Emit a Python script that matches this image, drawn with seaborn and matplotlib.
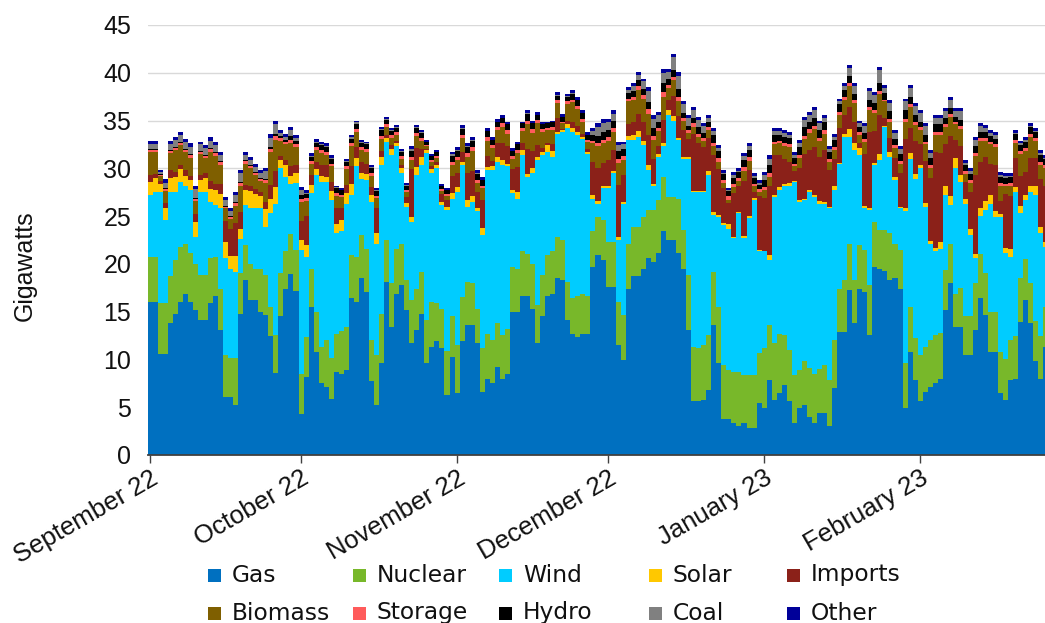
"""Daily GB electricity supply mix, September 2022 to February 2023."""

import matplotlib

matplotlib.use("Agg")
import matplotlib.dates as mdates
import matplotlib.pyplot as plt
import pandas as pd
import seaborn as sns
from matplotlib.patches import Rectangle

START_DATE = "2022-09-01"

# daily GW, Sep | Oct | Nov | Dec | Jan | Feb (to 26th, where the picture is cut)
gas = [
    16.0, 16.0, 10.6, 10.6, 13.8, 14.8, 16.0, 16.9, 16.0, 15.2, 14.1, 14.1, 15.9, 16.6, 13.1,
    6.1, 6.1, 5.2, 14.8, 18.3, 16.2, 16.2, 15.0, 14.7, 12.5, 8.6, 14.5, 17.4, 18.9, 17.2,
    4.3, 8.2, 15.5, 10.8, 7.5, 7.1, 5.9, 8.7, 8.5, 8.9, 16.4, 16.0, 18.5, 17.1, 7.7, 5.2,
    9.6, 18.1, 13.4, 16.9, 17.8, 15.2, 11.7, 13.1, 14.8, 9.6, 11.3, 11.9, 11.2, 6.3, 10.3,
    6.5, 11.9, 13.6, 13.6, 11.7, 6.6, 8.0, 7.5, 9.2, 8.0, 8.5, 15.0, 15.0, 16.6, 16.6,
    15.3, 11.7, 14.5, 16.6, 16.9, 18.5, 18.3, 14.1, 12.7, 12.4, 12.7, 12.7, 19.7, 20.9, 20.4,
    17.6, 17.6, 11.5, 9.9, 17.4, 18.7, 18.7, 19.5, 20.6, 20.2, 21.1, 23.4, 22.5, 22.5, 21.1,
    19.5, 13.1, 5.6, 5.6, 5.8, 6.8, 13.6, 9.6, 3.8, 3.8, 3.3, 3.0, 3.3, 2.8, 2.8, 5.4,
    4.9, 7.8, 5.8, 6.5, 7.3, 5.6, 3.3, 4.9, 5.2, 4.0, 3.3, 4.4, 4.4, 3.0, 7.0, 12.9,
    12.9, 17.3, 13.8, 17.4, 17.1, 12.6, 19.7, 19.5, 19.3, 18.3, 18.5, 17.4, 4.9, 10.8, 7.8,
    5.6, 6.6, 7.1, 7.5, 8.0, 15.2, 18.0, 13.4, 13.4, 10.5, 10.5, 13.1, 16.4, 14.6, 10.8,
    10.8, 6.5, 5.8, 7.8, 8.0, 13.9, 16.2, 13.8, 9.8, 8.0, 11.3,
]
nuclear = [
    4.7, 4.7, 5.3, 5.3, 4.9, 5.6, 5.8, 5.2, 5.1, 4.8, 4.7, 4.7, 4.7, 4.1, 4.3,
    4.4, 4.0, 4.9, 4.2, 3.7, 3.8, 3.3, 4.5, 4.1, 3.0, 4.0, 4.5, 3.9, 4.2, 4.3,
    4.2, 4.2, 4.0, 4.2, 3.8, 4.9, 4.2, 4.0, 4.5, 4.5, 4.5, 4.7, 4.5, 4.5, 4.3, 5.3,
    5.2, 4.4, 4.6, 4.7, 4.3, 3.1, 4.5, 4.3, 4.4, 4.5, 4.7, 4.0, 4.1, 4.6, 4.2,
    5.0, 4.6, 4.5, 4.4, 3.6, 4.6, 4.7, 4.5, 4.6, 4.6, 4.7, 4.7, 4.5, 4.7, 4.4,
    4.7, 4.0, 4.3, 4.3, 4.4, 4.3, 4.2, 4.0, 3.7, 4.2, 4.1, 3.9, 3.7, 4.0, 4.2,
    4.7, 4.7, 4.5, 4.7, 4.7, 5.2, 5.2, 5.4, 5.0, 5.4, 5.6, 5.7, 4.5, 4.5, 5.7,
    4.0, 5.7, 5.7, 5.6, 5.7, 5.8, 5.6, 5.9, 5.6, 5.1, 5.4, 5.7, 5.1, 5.6, 5.6, 5.3,
    6.3, 5.8, 5.9, 6.2, 5.3, 5.4, 5.1, 4.0, 4.6, 5.1, 5.2, 4.6, 5.0, 4.8, 5.0, 4.5,
    5.4, 4.8, 4.5, 4.6, 4.4, 5.2, 4.7, 4.0, 4.2, 4.9, 3.6, 4.1, 4.7, 4.7, 4.4,
    4.9, 4.7, 4.9, 5.1, 4.8, 4.2, 4.1, 3.5, 4.1, 4.0, 4.0, 4.9, 4.6, 4.4, 4.2,
    4.2, 4.3, 4.2, 4.2, 4.5, 4.6, 4.3, 4.2, 4.2, 4.5, 4.2,
]
wind = [
    6.5, 6.8, 11.6, 8.7, 8.8, 7.1, 6.8, 6.1, 6.6, 2.8, 8.7, 8.7, 5.9, 5.5, 8.5,
    10.1, 9.4, 9.1, 3.6, 4.2, 5.9, 6.4, 6.4, 5.1, 9.8, 13.7, 11.0, 7.8, 5.3, 7.0,
    13.0, 8.3, 7.9, 14.3, 17.3, 16.6, 16.6, 10.5, 10.4, 12.9, 6.3, 9.5, 5.9, 7.2, 14.5, 11.6,
    15.5, 10.3, 13.4, 10.7, 7.4, 7.7, 8.2, 11.9, 11.1, 17.5, 13.5, 14.1, 10.9, 14.7, 12.3,
    16.0, 13.8, 7.9, 8.5, 10.2, 11.8, 17.1, 17.8, 16.9, 17.7, 17.0, 7.7, 7.3, 10.1, 8.1,
    9.5, 15.2, 12.6, 10.8, 9.9, 10.8, 11.3, 16.1, 17.4, 16.9, 16.3, 14.9, 3.4, 1.4, 3.3,
    5.6, 7.2, 6.5, 11.7, 10.9, 9.1, 9.4, 7.5, 4.2, 2.6, 4.5, 3.2, 8.6, 8.0, 6.2,
    7.5, 12.2, 16.2, 16.3, 16.0, 16.7, 5.9, 9.4, 14.7, 14.8, 14.0, 16.6, 14.3, 16.4, 18.3, 10.7,
    10.1, 6.8, 15.3, 15.0, 15.5, 17.1, 20.2, 17.6, 16.9, 18.4, 18.5, 17.3, 16.9, 18.0, 15.7, 13.1,
    15.0, 11.2, 13.6, 9.4, 4.3, 7.8, 5.9, 7.4, 10.8, 8.0, 6.7, 4.3, 15.9, 15.5, 16.7,
    19.5, 14.7, 10.1, 8.7, 8.8, 7.8, 4.1, 13.1, 11.1, 11.8, 8.5, 2.6, 4.0, 6.6, 11.3,
    9.9, 14.1, 11.1, 8.7, 15.0, 6.8, 6.2, 9.5, 13.2, 10.7, 6.3,
]
solar = [
    1.4, 1.5, 0.9, 1.2, 1.5, 1.6, 1.3, 1.0, 1.1, 1.6, 1.3, 1.5, 1.3, 1.5, 1.4,
    1.7, 1.3, 1.6, 1.0, 1.5, 1.7, 1.4, 1.2, 1.8, 1.5, 1.7, 0.9, 1.3, 0.8, 1.0,
    1.0, 1.3, 0.9, 0.6, 0.6, 0.5, 0.9, 1.0, 1.2, 1.1, 1.2, 0.9, 0.6, 0.6, 0.7, 1.1,
    0.9, 0.4, 0.6, 0.4, 0.5, 0.4, 0.5, 0.8, 0.9, 0.3, 0.4, 0.4, 0.3, 0.4, 0.6,
    0.5, 0.4, 0.7, 0.6, 0.4, 0.8, 0.3, 0.4, 0.5, 0.6, 0.3, 0.3, 0.7, 0.5, 0.3,
    0.5, 0.3, 0.3, 0.7, 0.6, 0.2, 0.2, 0.4, 0.4, 0.3, 0.2, 0.2, 0.4, 0.3, 0.2,
    0.2, 0.2, 0.3, 0.2, 0.4, 0.5, 0.6, 0.5, 0.5, 0.2, 0.3, 0.3, 0.5, 0.5, 0.2,
    0.2, 0.2, 0.1, 0.1, 0.1, 0.4, 0.3, 0.2, 0.2, 0.5, 0.1, 0.1, 0.2, 0.2, 0.2, 0.1,
    0.1, 0.5, 0.2, 0.3, 0.3, 0.4, 0.1, 0.2, 0.1, 0.2, 0.2, 0.3, 0.2, 0.2, 0.5, 0.1,
    0.3, 0.8, 0.7, 0.7, 0.3, 0.2, 0.3, 0.6, 0.1, 0.5, 0.3, 0.2, 0.3, 0.6, 0.5,
    0.3, 0.4, 0.3, 0.4, 0.7, 1.0, 0.9, 1.1, 0.7, 0.5, 0.6, 0.4, 0.9, 1.0, 0.9,
    0.6, 0.3, 0.6, 0.9, 0.5, 0.8, 0.5, 0.6, 0.9, 0.7, 0.5,
]
imports = [
    0.7, 0.4, 0.3, 0.6, 0.8, 0.5, 0.5, 0.6, 0.4, 0.8, 0.5, 0.5, 0.9, 0.7, 1.1,
    2.2, 2.8, 3.5, 1.8, 0.6, 0.6, 0.5, 0.4, 0.8, 1.5, 1.7, 0.4, 0.5, 1.0, 0.8,
    2.0, 3.0, 1.0, 0.8, 1.2, 1.3, 1.0, 1.6, 1.3, 0.9, 1.8, 1.1, 1.2, 1.1, 0.8, 2.7,
    0.6, 0.3, 0.4, 0.2, 0.3, 0.6, 5.0, 2.0, 0.8, 0.1, 0.3, 0.3, 0.8, 0.7, 1.8,
    1.5, 1.0, 2.8, 2.6, 1.6, 2.9, 1.2, 0.6, 1.4, 1.8, 1.8, 2.2, 2.6, 0.8, 2.6,
    1.8, 1.2, 0.4, 0.3, 0.7, 1.5, 0.1, 0.4, 0.7, 0.6, 0.3, 0.3, 3.5, 3.4, 2.5,
    2.8, 2.2, 5.5, 2.8, 1.2, 1.4, 1.8, 2.0, 3.2, 2.6, 0.8, 2.5, 1.0, 2.1, 2.3,
    2.8, 1.9, 6.0, 5.1, 4.6, 3.5, 6.0, 4.8, 3.6, 2.2, 4.6, 2.8, 5.8, 4.8, 0.6, 5.6,
    5.5, 7.2, 4.2, 3.4, 2.6, 2.2, 1.0, 3.3, 4.7, 4.2, 5.0, 4.6, 5.4, 3.8, 2.8, 3.6,
    2.0, 2.3, 2.2, 0.6, 5.4, 8.0, 3.3, 4.1, 0.9, 1.5, 2.0, 3.5, 7.3, 2.6, 3.5,
    2.2, 4.4, 6.6, 10.0, 9.3, 4.3, 6.3, 1.9, 3.0, 1.8, 3.9, 8.3, 4.8, 4.6, 3.3,
    4.9, 1.4, 5.6, 5.5, 3.1, 3.1, 2.4, 3.0, 3.0, 5.0, 5.9,
]
biomass = [
    2.4, 2.3, 0.5, 1.2, 1.8, 2.3, 2.0, 1.9, 1.9, 1.4, 2.2, 1.6, 3.0, 2.9, 2.0,
    1.3, 1.1, 1.8, 2.8, 2.2, 1.8, 1.5, 1.2, 2.0, 3.4, 3.3, 1.6, 1.6, 2.4, 1.9,
    2.0, 1.6, 1.2, 1.2, 1.2, 1.0, 1.6, 1.3, 1.1, 1.6, 2.1, 1.6, 1.2, 1.2, 1.2, 1.0,
    1.3, 0.8, 0.8, 0.6, 0.7, 0.5, 1.0, 1.3, 0.9, 0.3, 0.5, 0.4, 0.3, 0.4, 1.2,
    1.4, 1.5, 1.7, 2.1, 1.0, 1.2, 1.6, 1.3, 1.4, 1.6, 1.3, 1.1, 1.5, 1.2, 2.6,
    1.9, 2.3, 1.7, 1.3, 1.5, 1.5, 0.6, 1.7, 2.0, 1.8, 1.3, 0.8, 1.9, 2.3, 2.0,
    2.0, 1.9, 2.3, 1.6, 2.4, 2.3, 2.5, 2.4, 2.2, 2.0, 1.6, 2.4, 1.3, 1.6, 1.5,
    1.0, 0.6, 0.7, 0.6, 0.7, 0.8, 0.9, 0.8, 0.6, 0.3, 0.6, 0.5, 1.0, 1.0, 0.6, 0.4,
    0.8, 1.0, 1.1, 1.2, 1.3, 1.5, 0.5, 1.1, 1.6, 1.8, 1.9, 1.7, 1.7, 0.9, 0.9, 1.4,
    1.6, 2.2, 2.0, 0.8, 1.3, 2.3, 1.9, 2.2, 1.7, 1.7, 1.0, 1.0, 1.8, 2.2, 1.6,
    1.5, 1.7, 1.0, 1.8, 1.9, 1.8, 2.0, 1.6, 1.8, 0.8, 1.0, 2.0, 2.2, 1.7, 2.0,
    1.8, 1.6, 0.9, 1.1, 1.6, 2.3, 2.2, 2.2, 1.8, 1.5, 1.8,
]
storage = [
    0.2, 0.25, 0.1, 0.2, 0.25, 0.25, 0.25, 0.25, 0.25, 0.2, 0.2, 0.2, 0.3, 0.3, 0.25,
    0.2, 0.2, 0.3, 0.3, 0.25, 0.25, 0.25, 0.2, 0.3, 0.3, 0.4, 0.3, 0.3, 0.4, 0.3,
    0.3, 0.3, 0.3, 0.3, 0.3, 0.3, 0.3, 0.3, 0.2, 0.3, 0.3, 0.3, 0.3, 0.3, 0.3, 0.2,
    0.3, 0.3, 0.3, 0.3, 0.3, 0.2, 0.3, 0.3, 0.3, 0.1, 0.2, 0.2, 0.2, 0.2, 0.3,
    0.3, 0.3, 0.4, 0.4, 0.3, 0.3, 0.4, 0.3, 0.3, 0.4, 0.4, 0.3, 0.3, 0.3, 0.4,
    0.4, 0.4, 0.3, 0.2, 0.3, 0.3, 0.2, 0.3, 0.3, 0.3, 0.3, 0.2, 0.3, 0.4, 0.4,
    0.4, 0.4, 0.4, 0.4, 0.3, 0.3, 0.4, 0.4, 0.5, 0.4, 0.3, 0.5, 0.3, 0.4, 0.5,
    0.3, 0.3, 0.4, 0.3, 0.3, 0.3, 0.4, 0.4, 0.3, 0.4, 0.4, 0.3, 0.4, 0.4, 0.3, 0.3,
    0.3, 0.4, 0.3, 0.3, 0.3, 0.3, 0.3, 0.3, 0.3, 0.4, 0.3, 0.3, 0.4, 0.3, 0.3, 0.3,
    0.3, 0.3, 0.3, 0.3, 0.3, 0.3, 0.3, 0.3, 0.2, 0.3, 0.3, 0.3, 0.3, 0.3, 0.3,
    0.3, 0.3, 0.3, 0.3, 0.3, 0.3, 0.3, 0.3, 0.3, 0.3, 0.3, 0.3, 0.3, 0.3, 0.3,
    0.3, 0.3, 0.2, 0.3, 0.3, 0.3, 0.3, 0.3, 0.3, 0.3, 0.3,
]
hydro = [
    0.1, 0.1, 0.1, 0.1, 0.1, 0.1, 0.1, 0.1, 0.1, 0.1, 0.1, 0.1, 0.1, 0.1, 0.1,
    0.1, 0.1, 0.1, 0.1, 0.1, 0.1, 0.1, 0.1, 0.1, 0.2, 0.2, 0.2, 0.2, 0.4, 0.4,
    0.4, 0.4, 0.4, 0.5, 0.5, 0.5, 0.5, 0.5, 0.5, 0.5, 0.5, 0.5, 0.5, 0.5, 0.5, 0.5,
    0.6, 0.5, 0.4, 0.4, 0.4, 0.5, 0.6, 0.5, 0.5, 0.4, 0.4, 0.4, 0.4, 0.4, 0.6,
    0.6, 0.6, 0.6, 0.7, 0.6, 0.6, 0.6, 0.6, 0.6, 0.6, 0.6, 0.5, 0.6, 0.5, 0.7,
    0.6, 0.5, 0.5, 0.5, 0.5, 0.5, 0.5, 0.5, 0.6, 0.6, 0.6, 0.5, 0.6, 0.7, 0.8,
    0.7, 0.8, 0.8, 0.7, 0.6, 0.6, 0.6, 0.6, 0.7, 0.8, 0.7, 0.9, 0.6, 0.7, 0.8,
    0.5, 0.4, 0.6, 0.7, 0.5, 0.6, 0.8, 0.7, 0.6, 0.5, 0.6, 0.6, 0.8, 0.7, 0.6, 0.5,
    0.8, 0.9, 0.7, 0.6, 0.7, 0.7, 0.6, 0.8, 0.9, 0.8, 0.9, 0.8, 0.8, 0.7, 0.8, 0.8,
    0.7, 0.8, 0.7, 0.5, 0.6, 0.8, 0.7, 0.8, 0.7, 0.8, 0.7, 0.7, 0.9, 0.8, 0.8,
    0.6, 0.7, 0.8, 0.8, 0.8, 0.7, 0.6, 0.5, 0.7, 0.6, 0.6, 0.7, 0.6, 0.6, 0.6,
    0.6, 0.6, 0.6, 0.6, 0.6, 0.6, 0.7, 0.7, 0.6, 0.7, 0.7,
]
coal = [
    0.5, 0.5, 0.2, 0.6, 0.6, 0.7, 0.7, 0.7, 0.8, 0.9, 0.7, 0.7, 0.8, 0.7, 0.6,
    0.6, 0.5, 0.7, 0.9, 0.5, 0.5, 0.5, 0.5, 0.8, 1.0, 1.0, 0.3, 0.3, 0.6, 0.3,
    0.5, 0.1, 0.1, 0.1, 0.1, 0.1, 0.1, 0.1, 0.0, 0.1, 0.2, 0.2, 0.1, 0.1, 0.1, 0.1,
    0.1, 0.1, 0.1, 0.1, 0.1, 0.1, 0.2, 0.1, 0.1, 0.0, 0.0, 0.0, 0.0, 0.0, 0.2,
    0.1, 0.1, 0.1, 0.1, 0.1, 0.0, 0.0, 0.0, 0.0, 0.0, 0.0, 0.0, 0.0, 0.0, 0.1,
    0.0, 0.0, 0.0, 0.0, 0.0, 0.1, 0.0, 0.1, 0.1, 0.1, 0.0, 0.0, 0.4, 0.9, 0.9,
    0.8, 0.7, 0.6, 0.5, 0.3, 0.5, 0.6, 0.8, 1.2, 1.0, 0.7, 1.1, 0.8, 1.3, 1.4,
    0.9, 0.9, 0.8, 0.8, 0.7, 0.4, 0.4, 0.3, 0.1, 0.1, 0.3, 0.1, 0.4, 0.4, 0.2, 0.2,
    0.5, 0.6, 0.4, 0.4, 0.4, 0.3, 0.3, 0.5, 0.8, 0.7, 0.8, 0.7, 0.5, 0.3, 0.3, 0.3,
    0.4, 0.8, 0.8, 0.4, 0.7, 0.9, 0.9, 1.4, 0.5, 0.8, 0.6, 0.5, 0.9, 0.9, 0.9,
    0.9, 0.9, 0.5, 0.7, 0.7, 0.7, 0.9, 0.6, 0.9, 0.3, 0.3, 0.7, 0.6, 0.4, 0.3,
    0.4, 0.2, 0.2, 0.1, 0.1, 0.2, 0.2, 0.1, 0.1, 0.2, 0.1,
]
other = [
    0.35, 0.35, 0.2, 0.4, 0.35, 0.35, 0.35, 0.35, 0.35, 0.3, 0.3, 0.3, 0.4, 0.4, 0.35,
    0.3, 0.3, 0.3, 0.3, 0.35, 0.35, 0.35, 0.3, 0.3, 0.4, 0.4, 0.3, 0.3, 0.3, 0.3,
    0.3, 0.3, 0.3, 0.3, 0.3, 0.3, 0.3, 0.2, 0.2, 0.2, 0.2, 0.2, 0.2, 0.2, 0.2, 0.2,
    0.2, 0.2, 0.2, 0.2, 0.2, 0.2, 0.3, 0.2, 0.2, 0.2, 0.2, 0.2, 0.2, 0.2, 0.2,
    0.3, 0.3, 0.3, 0.3, 0.3, 0.3, 0.3, 0.3, 0.3, 0.3, 0.3, 0.3, 0.3, 0.2, 0.3,
    0.3, 0.3, 0.3, 0.2, 0.2, 0.3, 0.3, 0.2, 0.3, 0.3, 0.3, 0.3, 0.3, 0.4, 0.5,
    0.4, 0.4, 0.4, 0.3, 0.3, 0.3, 0.3, 0.3, 0.4, 0.4, 0.3, 0.4, 0.3, 0.4, 0.4,
    0.3, 0.3, 0.3, 0.3, 0.3, 0.3, 0.3, 0.3, 0.3, 0.2, 0.3, 0.3, 0.3, 0.3, 0.3, 0.3,
    0.3, 0.4, 0.3, 0.3, 0.3, 0.3, 0.3, 0.3, 0.3, 0.3, 0.3, 0.3, 0.3, 0.3, 0.3, 0.3,
    0.3, 0.3, 0.3, 0.3, 0.3, 0.3, 0.3, 0.3, 0.3, 0.3, 0.3, 0.3, 0.3, 0.3, 0.3,
    0.3, 0.3, 0.3, 0.3, 0.3, 0.3, 0.3, 0.3, 0.3, 0.3, 0.3, 0.3, 0.3, 0.3, 0.3,
    0.3, 0.3, 0.3, 0.3, 0.3, 0.3, 0.3, 0.3, 0.3, 0.3, 0.3,
]

SOURCES = ["Gas", "Nuclear", "Wind", "Solar", "Imports",
           "Biomass", "Storage", "Hydro", "Coal", "Other"]
COLOURS = {
    "Gas": "#0070c0",
    "Nuclear": "#78b82a",
    "Wind": "#00ccff",
    "Solar": "#ffc800",
    "Imports": "#8b2119",
    "Biomass": "#7f5f00",
    "Storage": "#ff5b5b",
    "Hydro": "#000000",
    "Coal": "#808080",
    "Other": "#000099",
}
MONTH_LABELS = ["September 22", "October 22", "November 22",
                "December 22", "January 23", "February 23"]
Y_TICKS = [0, 5, 10, 15, 20, 25, 30, 35, 40, 45]

W, H = 1045, 623


def build_frame():
    series = [gas, nuclear, wind, solar, imports, biomass, storage, hydro, coal, other]
    days = pd.date_range(START_DATE, periods=len(gas), freq="D")
    frames = []
    for name, values in zip(SOURCES, series):
        if len(values) != len(days):
            raise ValueError(f"{name}: {len(values)} values, expected {len(days)}")
        frames.append(pd.DataFrame({"date": days, "source": name, "gw": values}))
    return pd.concat(frames, ignore_index=True), days


def main():
    frame, days = build_frame()

    sns.set_theme(style="white")
    plt.rcParams["font.family"] = ["Liberation Sans", "DejaVu Sans"]

    fig = plt.figure(figsize=(W / 100, H / 100), dpi=100)
    fig.patch.set_facecolor("white")
    ax = fig.add_axes([148 / W, 1 - 455 / H, (W - 148) / W, 430 / H])

    first = mdates.date2num(days[0])
    last = mdates.date2num(days[-1])
    # seaborn stacks the first hue level on top, so feed the order reversed
    sns.histplot(
        data=frame,
        x="date",
        weights="gw",
        hue="source",
        hue_order=SOURCES[::-1],
        palette=COLOURS,
        multiple="stack",
        element="step",
        fill=True,
        alpha=1,
        linewidth=0,
        binwidth=1,
        binrange=(first - 0.5, last + 0.5),
        legend=False,
        ax=ax,
    )

    ax.set_xlim(first - 0.4, first + 177.8)
    ax.set_ylim(0, 45)
    ax.set_yticks(Y_TICKS)
    ax.set_yticklabels([str(v) for v in Y_TICKS])
    month_starts = pd.date_range(START_DATE, periods=len(MONTH_LABELS), freq="MS")
    ax.set_xticks(mdates.date2num(month_starts))
    ax.set_xticklabels(MONTH_LABELS, rotation=30, ha="right", rotation_mode="anchor")

    ax.set_axisbelow(True)
    ax.yaxis.grid(True, color="#d9d9d9", linewidth=1.0)
    ax.xaxis.grid(False)
    for side in ("left", "top", "right"):
        ax.spines[side].set_visible(False)
    ax.spines["bottom"].set_color("#404040")
    ax.spines["bottom"].set_linewidth(1.3)

    ax.tick_params(axis="x", direction="out", length=6, width=1, color="#404040",
                   pad=2, labelsize=18.5, labelcolor="#111111", bottom=True)
    ax.tick_params(axis="y", length=0, pad=12, labelsize=18, labelcolor="#111111")
    ax.set_xlabel("")
    ax.set_ylabel("Gigawatts", fontsize=18, color="#111111")
    ax.yaxis.set_label_coords(-0.124, 0.44)

    # legend: two rows of five, drawn by hand to sit where the original does
    col_x = [208, 353, 499, 649, 787]
    row_y = [575, 613]
    for i, name in enumerate(SOURCES):
        r, c = divmod(i, 5)
        x, y = col_x[c], row_y[r]
        fig.patches.append(Rectangle(
            (x / W, 1 - (y + 6.5) / H), 13 / W, 13 / H,
            transform=fig.transFigure, facecolor=COLOURS[name], edgecolor="none",
        ))
        fig.text((x + 24) / W, 1 - y / H, name, ha="left", va="center",
                 fontsize=16.8, color="#111111", family=["DejaVu Sans"])

    fig.savefig("out.png", dpi=100, facecolor="white")
    plt.close(fig)


if __name__ == "__main__":
    main()
